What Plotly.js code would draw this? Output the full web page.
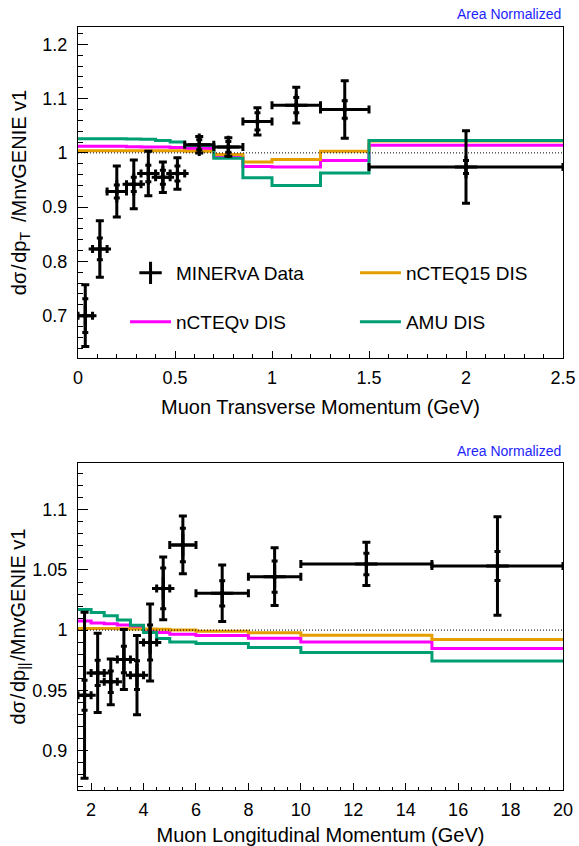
<!DOCTYPE html>
<html>
<head>
<meta charset="utf-8">
<script src="https://cdn.plot.ly/plotly-3.0.1.min.js"></script>
<style>
html,body{margin:0;padding:0;background:#fff;}
#chart{width:579px;height:846px;}
</style>
</head>
<body>
<div id="chart"></div>
<script>
// ---------- Top panel: Muon transverse momentum (GeV) ----------
const ptEdges   = [0, 0.075, 0.15, 0.25, 0.325, 0.4, 0.475, 0.55, 0.7, 0.85, 1.0, 1.25, 1.5, 2.5];
const ptData    = [0.700, 0.823, 0.929, 0.942, 0.962, 0.955, 0.962, 1.015, 1.011, 1.058, 1.088, 1.080, 0.974];
const ptStat    = [0.031, 0.020, 0.012, 0.013, 0.015, 0.013, 0.014, 0.009, 0.010, 0.016, 0.014, 0.016, 0.012];
const ptTotal   = [0.057, 0.052, 0.047, 0.045, 0.041, 0.028, 0.029, 0.015, 0.017, 0.025, 0.033, 0.053, 0.067];
const ptNCTEQ15 = [1.004, 1.004, 1.004, 1.004, 1.004, 1.004, 1.004, 1.003, 0.997, 0.983, 0.988, 1.003, 1.022];
const ptNCTEQnu = [1.012, 1.012, 1.012, 1.0115, 1.011, 1.011, 1.010, 1.008, 0.993, 0.975, 0.974, 0.986, 1.014];
const ptAMU     = [1.026, 1.026, 1.026, 1.0255, 1.025, 1.023, 1.020, 1.0135, 0.990, 0.954, 0.940, 0.963, 1.023];

// ---------- Bottom panel: Muon longitudinal momentum (GeV) ----------
const pzEdges   = [1.5, 2, 2.5, 3, 3.5, 4, 4.5, 5, 6, 8, 10, 15, 20];
const pzData    = [0.9458, 0.9644, 0.957, 0.9755, 0.9625, 0.9897, 1.0347, 1.0708, 1.0306, 1.0444, 1.055, 1.0533];
const pzStat    = [0.0125, 0.0105, 0.009, 0.011, 0.012, 0.0145, 0.017, 0.014, 0.0105, 0.013, 0.009, 0.012];
const pzTotal   = [0.069, 0.033, 0.019, 0.025, 0.033, 0.032, 0.026, 0.024, 0.0235, 0.024, 0.018, 0.041];
const pzNCTEQ15 = [1.0014, 1.0014, 1.0013, 1.0012, 1.001, 1.001, 1.0008, 1.0, 0.999, 0.9978, 0.9958, 0.9922];
const pzNCTEQnu = [1.0075, 1.0058, 1.0052, 1.0042, 1.003, 1.0, 0.998, 0.9965, 0.9956, 0.9933, 0.990, 0.9847];
const pzAMU     = [1.0172, 1.0147, 1.012, 1.0083, 1.004, 0.998, 0.993, 0.990, 0.9889, 0.9856, 0.9814, 0.9742];

const seriesNames  = ["MINERvA Data", "nCTEQ15 DIS", "nCTEQν DIS", "AMU DIS"];
const seriesColors = ["#000000", "#E69F00", "#FF00FF", "#009E73"];
const refValue = 1;
const noteText = "Area Normalized";
const HS = "\u200A", EN = "\u2002";
const yTitleTop = "dσ" + HS + "/" + HS + "dp<sub>T</sub>" + EN + "/MnvGENIE v1";
const yTitleBot = "dσ" + HS + "/" + HS + "dp<sub>||</sub>" + HS + "/MnvGENIE v1";

const FONT = "Liberation Sans, Arial, Helvetica, sans-serif";

function centers(e){ const c=[]; for(let i=0;i<e.length-1;i++) c.push((e[i]+e[i+1])/2); return c; }
function halfW(e){ const c=[]; for(let i=0;i<e.length-1;i++) c.push((e[i+1]-e[i])/2); return c; }
function stepY(v){ return v.concat([v[v.length-1]]); }

function panelTraces(edges, data, stat, total, m15, mnu, mamu, xa, ya, showLeg){
  const t = [];
  const lineT = (vals, idx, leg) => ({
    type:'scatter', mode:'lines', x: edges, y: stepY(vals), xaxis: xa, yaxis: ya,
    line:{shape:'hv', color: seriesColors[idx], width:3},
    name: seriesNames[idx], showlegend: showLeg, legend: leg, hoverinfo:'skip'
  });
  t.push(lineT(mnu, 2, 'legend3'));
  t.push(lineT(m15, 1, 'legend2'));
  t.push(lineT(mamu, 3, 'legend4'));
  // total uncertainty with bin-width horizontal bars
  t.push({
    type:'scatter', mode:'markers', x: centers(edges), y: data, xaxis: xa, yaxis: ya,
    marker:{color:'#000', size:5},
    error_x:{type:'data', array: halfW(edges), visible:true, color:'#000', thickness:3, width:4},
    error_y:{type:'data', array: total, visible:true, color:'#000', thickness:3, width:4},
    showlegend:false, hoverinfo:'skip'
  });
  // statistical uncertainty (inner ticks)
  t.push({
    type:'scatter', mode:'markers', x: centers(edges), y: data, xaxis: xa, yaxis: ya,
    marker:{symbol:'cross-thin-open', size:16, color:'#000', line:{color:'#000', width:3}},
    error_y:{type:'data', array: stat, visible:true, color:'#000', thickness:3, width:3},
    name: seriesNames[0], showlegend: showLeg, legend:'legend', hoverinfo:'skip'
  });
  return t;
}

const traces = []
  .concat(panelTraces(ptEdges, ptData, ptStat, ptTotal, ptNCTEQ15, ptNCTEQnu, ptAMU, 'x', 'y', true))
  .concat(panelTraces(pzEdges, pzData, pzStat, pzTotal, pzNCTEQ15, pzNCTEQnu, pzAMU, 'x2', 'y2', false));

const axBase = {
  ticks:'inside', tickcolor:'#000', tickwidth:1,
  showline:true, linecolor:'#000', linewidth:1, mirror:true,
  showgrid:false, zeroline:false,
  tickfont:{family:FONT, size:18, color:'#000'}
};

function legendBox(x, y){
  return {
    orientation:'v', x:x, xanchor:'left', y:y, yanchor:'middle', itemwidth:41,
    font:{family:FONT, size:19, color:'#000'}, bgcolor:'rgba(0,0,0,0)', borderwidth:0
  };
}

const layout = {
  width:579, height:846,
  margin:{l:78, r:16, t:27, b:56},
  paper_bgcolor:'#fff', plot_bgcolor:'#fff',
  font:{family:FONT, color:'#000'},
  showlegend:true,
  xaxis: Object.assign({}, axBase, {
    domain:[0,1], anchor:'y', range:[0,2.5], tick0:0, dtick:0.5, ticklen:7,
    ticklabelstandoff:3,
    minor:{dtick:0.1, ticks:'inside', ticklen:3.5, tickcolor:'#000', showgrid:false},
    title:{text:'Muon Transverse Momentum (GeV)', font:{family:FONT, size:20, color:'#000'}, standoff:13}
  }),
  yaxis: Object.assign({}, axBase, {
    domain:[0.5662,1], anchor:'x', range:[0.622,1.232], tick0:0, dtick:0.1, ticklen:10,
    ticklabelstandoff:6,
    minor:{dtick:0.02, ticks:'inside', ticklen:5, tickcolor:'#000', showgrid:false},
    title:{text:yTitleTop, font:{family:FONT, size:20, color:'#000'}, standoff:10}
  }),
  xaxis2: Object.assign({}, axBase, {
    domain:[0,1], anchor:'y2', range:[1.5,20], tick0:0, dtick:2, ticklen:7,
    ticklabelstandoff:3,
    minor:{dtick:0.5, ticks:'inside', ticklen:3.5, tickcolor:'#000', showgrid:false},
    title:{text:'Muon Longitudinal Momentum (GeV)', font:{family:FONT, size:20, color:'#000'}, standoff:14}
  }),
  yaxis2: Object.assign({}, axBase, {
    domain:[0,0.4286], anchor:'x2', range:[0.867,1.139], tick0:0, dtick:0.05, ticklen:10,
    ticklabelstandoff:6,
    minor:{dtick:0.01, ticks:'inside', ticklen:5, tickcolor:'#000', showgrid:false},
    title:{text:yTitleBot, font:{family:FONT, size:20, color:'#000'}, standoff:0}
  }),
  legend:  legendBox(0.097, 0.6776),
  legend2: legendBox(0.571, 0.6776),
  legend3: legendBox(0.097, 0.6134),
  legend4: legendBox(0.571, 0.6134),
  shapes:[
    {type:'line', xref:'x domain', x0:0, x1:1, yref:'y', y0:refValue, y1:refValue, line:{color:'#000', width:1, dash:'1px,2px'}},
    {type:'line', xref:'x2 domain', x0:0, x1:1, yref:'y2', y0:refValue, y1:refValue, line:{color:'#000', width:1, dash:'1px,2px'}}
  ],
  annotations:[
    {text:noteText, xref:'paper', yref:'paper', x:1, xanchor:'right', y:1.017, yanchor:'middle', showarrow:false,
     font:{family:FONT, size:14, color:'rgb(30,30,255)'}},
    {text:noteText, xref:'paper', yref:'paper', x:1, xanchor:'right', y:0.4443, yanchor:'middle', showarrow:false,
     font:{family:FONT, size:14, color:'rgb(30,30,255)'}}
  ]
};

Plotly.newPlot('chart', traces, layout, {displayModeBar:false, staticPlot:true});
</script>
</body>
</html>
